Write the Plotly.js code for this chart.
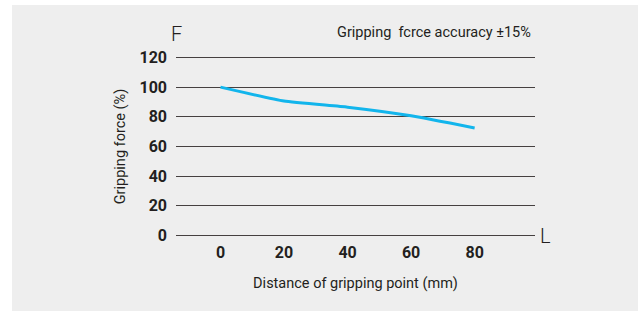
<!DOCTYPE html>
<html><head><meta charset="utf-8">
<script src="https://cdn.plot.ly/plotly-3.0.1.min.js"></script>
<style>
html,body{margin:0;padding:0;background:#ffffff;}
#chart{position:absolute;left:12px;top:5px;width:626px;height:306px;}
</style></head>
<body><div id="chart"></div>
<script>
const distance = [0, 20, 40, 60, 80];
const force = [100, 90.6, 86.5, 80.7, 72.5];
const xTicks = [0, 20, 40, 60, 80];
const yTicks = [0, 20, 40, 60, 80, 100, 120];

const trace = {
  x: distance, y: force, type: 'scatter', mode: 'lines',
  line: {color: '#12b5ec', width: 3, shape: 'spline', smoothing: 0.4},
  hoverinfo: 'skip'
};
const tickFont = {family: 'Roboto, sans-serif', size: 16, color: '#231f20', weight: 700};
const titleFont = {family: 'Roboto, sans-serif', size: 14.5, color: '#231f20'};
const layout = {
  width: 626, height: 306,
  paper_bgcolor: '#eeeeee', plot_bgcolor: '#eeeeee',
  margin: {l: 164, r: 103, t: 51, b: 74},
  showlegend: false,
  xaxis: {
    range: [-14, 99], tickvals: xTicks, ticktext: xTicks.map(String),
    showgrid: false, zeroline: false, showline: false, ticks: '',
    tickfont: tickFont, ticklabelstandoff: 4,
    title: {text: 'Distance of gripping point (mm)', font: titleFont, standoff: 16}
  },
  yaxis: {
    range: [-1, 121], tickvals: yTicks, ticktext: yTicks.map(String),
    showgrid: true, gridcolor: '#454040', gridwidth: 1,
    zeroline: false, showline: false, ticks: '',
    tickfont: tickFont, ticklabelstandoff: 8,
    title: {text: 'Gripping force (%)', font: titleFont, standoff: 10}
  },
  annotations: [
    {text: 'F', xref: 'paper', yref: 'paper', x: 0, y: 1, xanchor: 'center', yanchor: 'bottom', yshift: 8, showarrow: false,
     font: {family: 'Roboto, sans-serif', size: 20, color: '#231f20', weight: 300}},
    {text: 'L', xref: 'paper', yref: 'y', x: 1, y: 0, xanchor: 'left', yanchor: 'middle', xshift: 3, showarrow: false,
     font: {family: 'Roboto, sans-serif', size: 20, color: '#231f20', weight: 300}},
    {text: 'Gripping  fcrce accuracy ±15%', xref: 'paper', yref: 'paper', x: 0.995, y: 1, xanchor: 'right', yanchor: 'bottom', yshift: 13, showarrow: false,
     font: {family: 'Roboto, sans-serif', size: 14.5, color: '#231f20'}}
  ]
};
Plotly.newPlot('chart', [trace], layout, {displayModeBar: false, staticPlot: true});
</script></body></html>
